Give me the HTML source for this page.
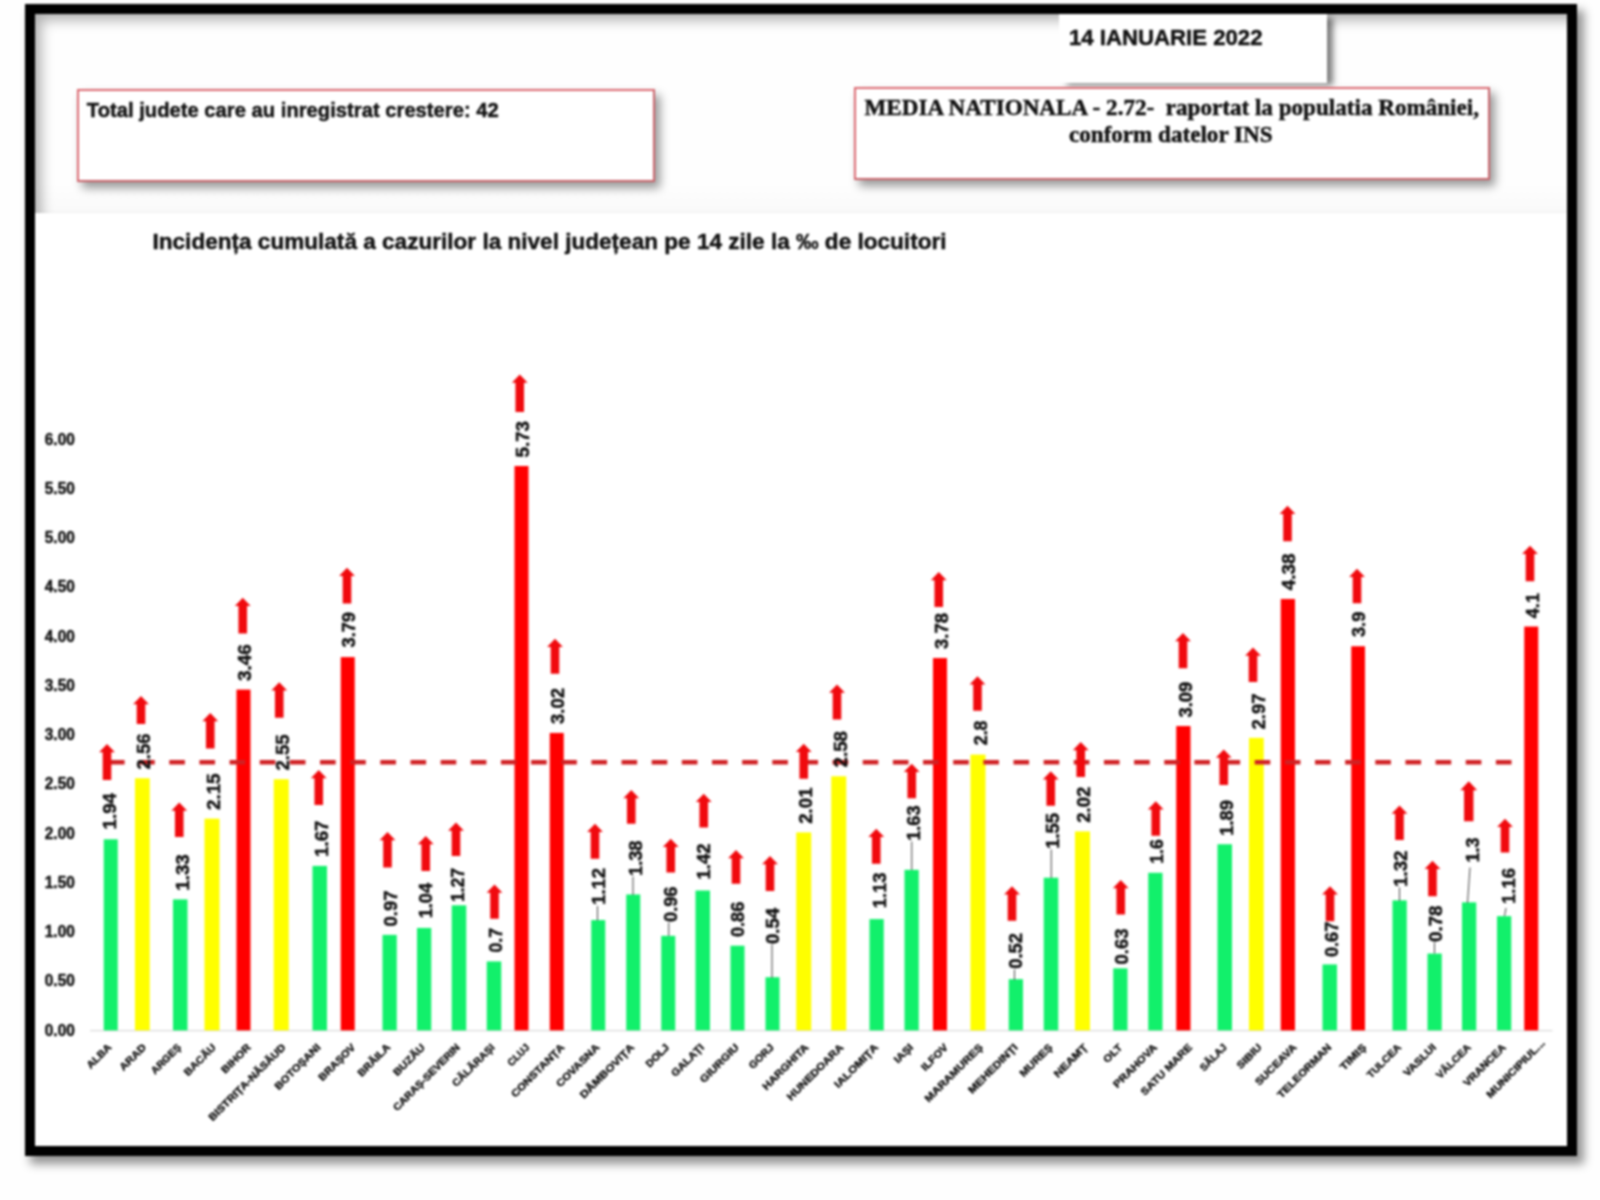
<!DOCTYPE html>
<html lang="ro">
<head>
<meta charset="utf-8">
<title>Incidența cumulată a cazurilor la nivel județean pe 14 zile</title>
<style>
html,body{margin:0;padding:0;background:#fefefe;}
body{width:1600px;height:1200px;position:relative;overflow:hidden;
 font-family:"Liberation Sans",sans-serif;}
#frame{position:absolute;left:25px;top:4px;width:1532px;height:1132px;
 border:10px solid #000;background:#fff;
 box-shadow:6px 7px 9px 1px rgba(0,0,0,.42);}
#head{position:absolute;left:35px;top:14px;width:1532px;height:199px;
 background:linear-gradient(to bottom,#fefefe 0,#fefefe 170px,#fafafa 196px,#f3f3f3 199px);
 box-shadow:inset 10px 10px 13px -4px rgba(0,0,0,.31);}
.box{position:absolute;background:#fff;border:2px solid #dc6a72;border-right-color:#c9646b;border-bottom-color:#c9646b;
 box-shadow:5px 6px 9px rgba(0,0,0,.4);box-sizing:border-box;}
#b1{left:76.5px;top:88.5px;width:578.5px;height:93.5px;}
#b2{left:853.5px;top:87px;width:636px;height:93px;}
#date{position:absolute;left:1058.5px;top:14px;width:268.5px;height:68.5px;background:#fff;
 box-shadow:7px 3px 6px -1px rgba(0,0,0,.5);}
#page{position:absolute;left:0;top:0;width:1600px;height:1200px;filter:blur(0.8px);}
svg{position:absolute;left:0;top:0;}
text{font-family:"Liberation Sans",sans-serif;font-weight:bold;fill:#111;}
.h{stroke:#111;stroke-width:.45px;}
.ser{font-family:"Liberation Serif",serif;}
</style>
</head>
<body>
<div id="page">
<div id="frame"></div>
<div id="head"></div>
<div class="box" id="b1"></div>
<div id="date"></div>
<div class="box" id="b2"></div>
<svg width="1600" height="1200" viewBox="0 0 1600 1200">

<text class="h" x="86.8" y="116.6" font-size="21" textLength="412" lengthAdjust="spacingAndGlyphs">Total judete care au inregistrat crestere: 42</text>
<text class="h" x="1069" y="45" font-size="22" textLength="193.5" lengthAdjust="spacingAndGlyphs">14 IANUARIE 2022</text>
<text class="ser h" x="864.5" y="115" font-size="22.5" textLength="614.5" lengthAdjust="spacingAndGlyphs" xml:space="preserve">MEDIA NATIONALA - 2.72-  raportat la populatia României,</text>
<text class="ser h" x="1069" y="142" font-size="22.5" textLength="203.5" lengthAdjust="spacingAndGlyphs">conform datelor INS</text>
<text class="h" x="152.5" y="248.6" font-size="22.5" textLength="794" lengthAdjust="spacingAndGlyphs">Incidența cumulată a cazurilor la nivel județean pe 14 zile la ‰ de locuitori</text>
<text class="h" x="44.8" y="1035.6" font-size="15.8" textLength="30" lengthAdjust="spacingAndGlyphs">0.00</text>
<text class="h" x="44.8" y="986.35" font-size="15.8" textLength="30" lengthAdjust="spacingAndGlyphs">0.50</text>
<text class="h" x="44.8" y="937.1" font-size="15.8" textLength="30" lengthAdjust="spacingAndGlyphs">1.00</text>
<text class="h" x="44.8" y="887.85" font-size="15.8" textLength="30" lengthAdjust="spacingAndGlyphs">1.50</text>
<text class="h" x="44.8" y="838.6" font-size="15.8" textLength="30" lengthAdjust="spacingAndGlyphs">2.00</text>
<text class="h" x="44.8" y="789.35" font-size="15.8" textLength="30" lengthAdjust="spacingAndGlyphs">2.50</text>
<text class="h" x="44.8" y="740.1" font-size="15.8" textLength="30" lengthAdjust="spacingAndGlyphs">3.00</text>
<text class="h" x="44.8" y="690.85" font-size="15.8" textLength="30" lengthAdjust="spacingAndGlyphs">3.50</text>
<text class="h" x="44.8" y="641.6" font-size="15.8" textLength="30" lengthAdjust="spacingAndGlyphs">4.00</text>
<text class="h" x="44.8" y="592.35" font-size="15.8" textLength="30" lengthAdjust="spacingAndGlyphs">4.50</text>
<text class="h" x="44.8" y="543.1" font-size="15.8" textLength="30" lengthAdjust="spacingAndGlyphs">5.00</text>
<text class="h" x="44.8" y="493.85" font-size="15.8" textLength="30" lengthAdjust="spacingAndGlyphs">5.50</text>
<text class="h" x="44.8" y="444.6" font-size="15.8" textLength="30" lengthAdjust="spacingAndGlyphs">6.00</text>
<line x1="90" y1="1030.6" x2="1552.5" y2="1030.6" stroke="#dadada" stroke-width="1.2"/>
<g id="bars">
<rect x="103.75" y="839.31" width="14" height="191.09" fill="#12f06b"/>
<rect x="135" y="778.24" width="14.75" height="252.16" fill="#ffff00"/>
<rect x="173" y="899.4" width="14.5" height="131" fill="#12f06b"/>
<rect x="204.5" y="818.63" width="15" height="211.77" fill="#ffff00"/>
<rect x="236.5" y="689.59" width="14" height="340.81" fill="#ff0000"/>
<rect x="273.75" y="779.23" width="15" height="251.17" fill="#ffff00"/>
<rect x="312.5" y="865.91" width="14.5" height="164.5" fill="#12f06b"/>
<rect x="340.75" y="657.09" width="14" height="373.32" fill="#ff0000"/>
<rect x="382.5" y="934.86" width="14.25" height="95.54" fill="#12f06b"/>
<rect x="417" y="927.96" width="14.25" height="102.44" fill="#12f06b"/>
<rect x="451.75" y="905.31" width="14.5" height="125.1" fill="#12f06b"/>
<rect x="486.75" y="961.45" width="14.5" height="68.95" fill="#12f06b"/>
<rect x="514.5" y="466" width="14" height="564.41" fill="#ff0000"/>
<rect x="549.75" y="732.93" width="14" height="297.47" fill="#ff0000"/>
<rect x="591.25" y="920.08" width="14" height="110.32" fill="#12f06b"/>
<rect x="626.25" y="894.47" width="14" height="135.93" fill="#12f06b"/>
<rect x="661.25" y="935.84" width="14" height="94.56" fill="#12f06b"/>
<rect x="695.5" y="890.53" width="14.5" height="139.87" fill="#12f06b"/>
<rect x="730.5" y="945.69" width="14" height="84.71" fill="#12f06b"/>
<rect x="765.5" y="977.21" width="14" height="53.19" fill="#12f06b"/>
<rect x="796.25" y="832.42" width="15" height="197.99" fill="#ffff00"/>
<rect x="831.25" y="776.27" width="15" height="254.13" fill="#ffff00"/>
<rect x="869.5" y="919.1" width="14.25" height="111.3" fill="#12f06b"/>
<rect x="904.5" y="869.85" width="14.25" height="160.55" fill="#12f06b"/>
<rect x="933" y="658.07" width="14" height="372.33" fill="#ff0000"/>
<rect x="970.5" y="754.6" width="15" height="275.8" fill="#ffff00"/>
<rect x="1008.75" y="979.18" width="14.25" height="51.22" fill="#12f06b"/>
<rect x="1043.75" y="877.73" width="14.5" height="152.67" fill="#12f06b"/>
<rect x="1075" y="831.43" width="15" height="198.97" fill="#ffff00"/>
<rect x="1113.25" y="968.35" width="14.25" height="62.05" fill="#12f06b"/>
<rect x="1148.25" y="872.8" width="14.25" height="157.6" fill="#12f06b"/>
<rect x="1176.25" y="726.04" width="14.25" height="304.37" fill="#ff0000"/>
<rect x="1217.5" y="844.24" width="14.5" height="186.16" fill="#12f06b"/>
<rect x="1249" y="737.86" width="14.75" height="292.55" fill="#ffff00"/>
<rect x="1280.75" y="598.97" width="14.25" height="431.43" fill="#ff0000"/>
<rect x="1322.5" y="964.41" width="14.5" height="66" fill="#12f06b"/>
<rect x="1351.25" y="646.25" width="13.75" height="384.15" fill="#ff0000"/>
<rect x="1392.5" y="900.38" width="14.25" height="130.02" fill="#12f06b"/>
<rect x="1427.5" y="953.57" width="14.25" height="76.83" fill="#12f06b"/>
<rect x="1462" y="902.35" width="14.25" height="128.05" fill="#12f06b"/>
<rect x="1497" y="916.14" width="14.25" height="114.26" fill="#12f06b"/>
<rect x="1524.25" y="626.55" width="14" height="403.85" fill="#ff0000"/>
</g>
<line x1="109" y1="762.2" x2="1524" y2="762.2" stroke="#d02124" stroke-width="4.6" stroke-dasharray="15.6 14.55"/>
<g stroke="#444" stroke-width="1" fill="none">
<line x1="597.5" y1="906" x2="597.5" y2="920.5"/>
<line x1="633" y1="876.5" x2="633" y2="895"/>
<line x1="668.75" y1="922.5" x2="668.75" y2="936"/>
<line x1="772" y1="944.5" x2="772" y2="978"/>
<line x1="911.75" y1="841.5" x2="911.75" y2="870"/>
<line x1="1014.5" y1="969.5" x2="1014.5" y2="980"/>
<line x1="1051.25" y1="849.5" x2="1051.25" y2="878"/>
<line x1="1399.5" y1="887.5" x2="1399.5" y2="901"/>
<line x1="1434.5" y1="942.5" x2="1434.5" y2="953.5"/>
<line x1="1470" y1="867.5" x2="1467.5" y2="903"/>
<line x1="1506" y1="908" x2="1504.5" y2="916"/>
</g>
<g fill="#f00a0e">
<polygon points="107,744 114.9,752.2 111.3,752.2 111.3,780 102.7,780 102.7,752.2 99.1,752.2"/>
<polygon points="141,696 148.9,704.2 145.3,704.2 145.3,724 136.7,724 136.7,704.2 133.1,704.2"/>
<polygon points="179.25,802.5 187.15,810.7 183.55,810.7 183.55,837 174.95,837 174.95,810.7 171.35,810.7"/>
<polygon points="210.25,713 218.15,721.2 214.55,721.2 214.55,748.5 205.95,748.5 205.95,721.2 202.35,721.2"/>
<polygon points="242.75,597.75 250.65,605.95 247.05,605.95 247.05,633.5 238.45,633.5 238.45,605.95 234.85,605.95"/>
<polygon points="279.25,682.25 287.15,690.45 283.55,690.45 283.55,717.75 274.95,717.75 274.95,690.45 271.35,690.45"/>
<polygon points="318.75,770 326.65,778.2 323.05,778.2 323.05,805 314.45,805 314.45,778.2 310.85,778.2"/>
<polygon points="347,567.75 354.9,575.95 351.3,575.95 351.3,603.5 342.7,603.5 342.7,575.95 339.1,575.95"/>
<polygon points="387.5,832 395.4,840.2 391.8,840.2 391.8,867.5 383.2,867.5 383.2,840.2 379.6,840.2"/>
<polygon points="425.75,836 433.65,844.2 430.05,844.2 430.05,871 421.45,871 421.45,844.2 417.85,844.2"/>
<polygon points="456,822.5 463.9,830.7 460.3,830.7 460.3,856 451.7,856 451.7,830.7 448.1,830.7"/>
<polygon points="494.5,884.5 502.4,892.7 498.8,892.7 498.8,918.75 490.2,918.75 490.2,892.7 486.6,892.7"/>
<polygon points="519.75,374.5 527.65,382.7 524.05,382.7 524.05,412 515.45,412 515.45,382.7 511.85,382.7"/>
<polygon points="555,638.75 562.9,646.95 559.3,646.95 559.3,673.75 550.7,673.75 550.7,646.95 547.1,646.95"/>
<polygon points="595,823.75 602.9,831.95 599.3,831.95 599.3,858.75 590.7,858.75 590.7,831.95 587.1,831.95"/>
<polygon points="631.25,790 639.15,798.2 635.55,798.2 635.55,823.75 626.95,823.75 626.95,798.2 623.35,798.2"/>
<polygon points="670.75,838.75 678.65,846.95 675.05,846.95 675.05,872.5 666.45,872.5 666.45,846.95 662.85,846.95"/>
<polygon points="703.75,793.75 711.65,801.95 708.05,801.95 708.05,827.5 699.45,827.5 699.45,801.95 695.85,801.95"/>
<polygon points="736,850 743.9,858.2 740.3,858.2 740.3,883.75 731.7,883.75 731.7,858.2 728.1,858.2"/>
<polygon points="770,856 777.9,864.2 774.3,864.2 774.3,891 765.7,891 765.7,864.2 762.1,864.2"/>
<polygon points="803.75,743.75 811.65,751.95 808.05,751.95 808.05,778.75 799.45,778.75 799.45,751.95 795.85,751.95"/>
<polygon points="837,684.5 844.9,692.7 841.3,692.7 841.3,719.5 832.7,719.5 832.7,692.7 829.1,692.7"/>
<polygon points="876.25,828.75 884.15,836.95 880.55,836.95 880.55,863.75 871.95,863.75 871.95,836.95 868.35,836.95"/>
<polygon points="911.75,763.75 919.65,771.95 916.05,771.95 916.05,798.25 907.45,798.25 907.45,771.95 903.85,771.95"/>
<polygon points="938.75,572 946.65,580.2 943.05,580.2 943.05,607 934.45,607 934.45,580.2 930.85,580.2"/>
<polygon points="977.5,676.25 985.4,684.45 981.8,684.45 981.8,710.75 973.2,710.75 973.2,684.45 969.6,684.45"/>
<polygon points="1012,886.25 1019.9,894.45 1016.3,894.45 1016.3,920.75 1007.7,920.75 1007.7,894.45 1004.1,894.45"/>
<polygon points="1050.75,771.25 1058.65,779.45 1055.05,779.45 1055.05,805.75 1046.45,805.75 1046.45,779.45 1042.85,779.45"/>
<polygon points="1080.75,742 1088.65,750.2 1085.05,750.2 1085.05,777 1076.45,777 1076.45,750.2 1072.85,750.2"/>
<polygon points="1120.75,880 1128.65,888.2 1125.05,888.2 1125.05,914.5 1116.45,914.5 1116.45,888.2 1112.85,888.2"/>
<polygon points="1155.75,801.25 1163.65,809.45 1160.05,809.45 1160.05,835.75 1151.45,835.75 1151.45,809.45 1147.85,809.45"/>
<polygon points="1183,633 1190.9,641.2 1187.3,641.2 1187.3,668.25 1178.7,668.25 1178.7,641.2 1175.1,641.2"/>
<polygon points="1223.75,749.5 1231.65,757.7 1228.05,757.7 1228.05,785 1219.45,785 1219.45,757.7 1215.85,757.7"/>
<polygon points="1253,647.5 1260.9,655.7 1257.3,655.7 1257.3,682 1248.7,682 1248.7,655.7 1245.1,655.7"/>
<polygon points="1287.5,505.75 1295.4,513.95 1291.8,513.95 1291.8,541.25 1283.2,541.25 1283.2,513.95 1279.6,513.95"/>
<polygon points="1330,886.25 1337.9,894.45 1334.3,894.45 1334.3,921.25 1325.7,921.25 1325.7,894.45 1322.1,894.45"/>
<polygon points="1357,568.75 1364.9,576.95 1361.3,576.95 1361.3,603.25 1352.7,603.25 1352.7,576.95 1349.1,576.95"/>
<polygon points="1399.5,805.5 1407.4,813.7 1403.8,813.7 1403.8,840 1395.2,840 1395.2,813.7 1391.6,813.7"/>
<polygon points="1432.5,860.75 1440.4,868.95 1436.8,868.95 1436.8,896.25 1428.2,896.25 1428.2,868.95 1424.6,868.95"/>
<polygon points="1468.75,781.25 1477.15,790.25 1473.45,790.25 1473.45,821.25 1464.05,821.25 1464.05,790.25 1460.35,790.25"/>
<polygon points="1505,818.75 1512.9,826.95 1509.3,826.95 1509.3,852.5 1500.7,852.5 1500.7,826.95 1497.1,826.95"/>
<polygon points="1530,545.75 1537.9,553.95 1534.3,553.95 1534.3,581.25 1525.7,581.25 1525.7,553.95 1522.1,553.95"/>
</g>
<g font-size="18.6" stroke="#111" stroke-width="0.45">
<text transform="translate(115.6 829.5) rotate(-90)" textLength="36.5" lengthAdjust="spacingAndGlyphs">1.94</text>
<text transform="translate(150.45 769.5) rotate(-90)" textLength="36" lengthAdjust="spacingAndGlyphs">2.56</text>
<text transform="translate(189.2 890.75) rotate(-90)" textLength="36.5" lengthAdjust="spacingAndGlyphs">1.33</text>
<text transform="translate(220.45 810) rotate(-90)" textLength="36.5" lengthAdjust="spacingAndGlyphs">2.15</text>
<text transform="translate(250.7 681) rotate(-90)" textLength="36.75" lengthAdjust="spacingAndGlyphs">3.46</text>
<text transform="translate(289.45 770.5) rotate(-90)" textLength="36" lengthAdjust="spacingAndGlyphs">2.55</text>
<text transform="translate(327.95 857) rotate(-90)" textLength="36.5" lengthAdjust="spacingAndGlyphs">1.67</text>
<text transform="translate(355.45 647.5) rotate(-90)" textLength="35.5" lengthAdjust="spacingAndGlyphs">3.79</text>
<text transform="translate(396.7 926.5) rotate(-90)" textLength="36" lengthAdjust="spacingAndGlyphs">0.97</text>
<text transform="translate(432.2 918.25) rotate(-90)" textLength="35.25" lengthAdjust="spacingAndGlyphs">1.04</text>
<text transform="translate(464.2 902) rotate(-90)" textLength="34" lengthAdjust="spacingAndGlyphs">1.27</text>
<text transform="translate(501.7 952.5) rotate(-90)" textLength="24.5" lengthAdjust="spacingAndGlyphs">0.7</text>
<text transform="translate(529.2 457.5) rotate(-90)" textLength="36.5" lengthAdjust="spacingAndGlyphs">5.73</text>
<text transform="translate(564.2 724) rotate(-90)" textLength="36" lengthAdjust="spacingAndGlyphs">3.02</text>
<text transform="translate(605.45 905) rotate(-90)" textLength="37" lengthAdjust="spacingAndGlyphs">1.12</text>
<text transform="translate(641.7 876) rotate(-90)" textLength="35.5" lengthAdjust="spacingAndGlyphs">1.38</text>
<text transform="translate(677.2 922) rotate(-90)" textLength="35.5" lengthAdjust="spacingAndGlyphs">0.96</text>
<text transform="translate(710.45 879.5) rotate(-90)" textLength="36" lengthAdjust="spacingAndGlyphs">1.42</text>
<text transform="translate(744.2 937) rotate(-90)" textLength="35.25" lengthAdjust="spacingAndGlyphs">0.86</text>
<text transform="translate(779.2 944) rotate(-90)" textLength="36" lengthAdjust="spacingAndGlyphs">0.54</text>
<text transform="translate(811.7 823.75) rotate(-90)" textLength="36.25" lengthAdjust="spacingAndGlyphs">2.01</text>
<text transform="translate(846.7 767.5) rotate(-90)" textLength="36.5" lengthAdjust="spacingAndGlyphs">2.58</text>
<text transform="translate(886.2 908.25) rotate(-90)" textLength="35.75" lengthAdjust="spacingAndGlyphs">1.13</text>
<text transform="translate(920.45 840.75) rotate(-90)" textLength="35.25" lengthAdjust="spacingAndGlyphs">1.63</text>
<text transform="translate(947.95 649) rotate(-90)" textLength="36" lengthAdjust="spacingAndGlyphs">3.78</text>
<text transform="translate(986.7 745.25) rotate(-90)" textLength="24.75" lengthAdjust="spacingAndGlyphs">2.8</text>
<text transform="translate(1021.7 968.75) rotate(-90)" textLength="35.75" lengthAdjust="spacingAndGlyphs">0.52</text>
<text transform="translate(1059.2 848.75) rotate(-90)" textLength="35.75" lengthAdjust="spacingAndGlyphs">1.55</text>
<text transform="translate(1090.45 822.75) rotate(-90)" textLength="36" lengthAdjust="spacingAndGlyphs">2.02</text>
<text transform="translate(1127.95 964.5) rotate(-90)" textLength="36" lengthAdjust="spacingAndGlyphs">0.63</text>
<text transform="translate(1162.95 863.75) rotate(-90)" textLength="24.5" lengthAdjust="spacingAndGlyphs">1.6</text>
<text transform="translate(1191.7 717.5) rotate(-90)" textLength="35.75" lengthAdjust="spacingAndGlyphs">3.09</text>
<text transform="translate(1232.95 835.75) rotate(-90)" textLength="35.75" lengthAdjust="spacingAndGlyphs">1.89</text>
<text transform="translate(1264.7 729.5) rotate(-90)" textLength="36" lengthAdjust="spacingAndGlyphs">2.97</text>
<text transform="translate(1295.45 590.25) rotate(-90)" textLength="36.75" lengthAdjust="spacingAndGlyphs">4.38</text>
<text transform="translate(1337.95 957) rotate(-90)" textLength="35.25" lengthAdjust="spacingAndGlyphs">0.67</text>
<text transform="translate(1365.45 637) rotate(-90)" textLength="25.25" lengthAdjust="spacingAndGlyphs">3.9</text>
<text transform="translate(1407.2 887) rotate(-90)" textLength="36.5" lengthAdjust="spacingAndGlyphs">1.32</text>
<text transform="translate(1442.2 942) rotate(-90)" textLength="36.5" lengthAdjust="spacingAndGlyphs">0.78</text>
<text transform="translate(1478.7 862.5) rotate(-90)" textLength="25" lengthAdjust="spacingAndGlyphs">1.3</text>
<text transform="translate(1515.45 904) rotate(-90)" textLength="36" lengthAdjust="spacingAndGlyphs">1.16</text>
<text transform="translate(1539.2 618.25) rotate(-90)" textLength="25.25" lengthAdjust="spacingAndGlyphs">4.1</text>
</g>
<g font-size="10.2" text-anchor="end" stroke="#111" stroke-width="0.4">
<text transform="translate(112 1048) rotate(-45)" textLength="30.15" lengthAdjust="spacingAndGlyphs">ALBA</text>
<text transform="translate(146.86 1048) rotate(-45)" textLength="32.97" lengthAdjust="spacingAndGlyphs">ARAD</text>
<text transform="translate(181.72 1048) rotate(-45)" textLength="37.85" lengthAdjust="spacingAndGlyphs">ARGEȘ</text>
<text transform="translate(216.58 1048) rotate(-45)" textLength="40.39" lengthAdjust="spacingAndGlyphs">BACĂU</text>
<text transform="translate(251.44 1048) rotate(-45)" textLength="36.92" lengthAdjust="spacingAndGlyphs">BIHOR</text>
<text transform="translate(286.3 1048) rotate(-45)" textLength="103.91" lengthAdjust="spacingAndGlyphs">BISTRIȚA-NĂSĂUD</text>
<text transform="translate(321.16 1048) rotate(-45)" textLength="60.08" lengthAdjust="spacingAndGlyphs">BOTOȘANI</text>
<text transform="translate(356.02 1048) rotate(-45)" textLength="47.34" lengthAdjust="spacingAndGlyphs">BRAȘOV</text>
<text transform="translate(390.88 1048) rotate(-45)" textLength="41.35" lengthAdjust="spacingAndGlyphs">BRĂILA</text>
<text transform="translate(425.74 1048) rotate(-45)" textLength="40.34" lengthAdjust="spacingAndGlyphs">BUZĂU</text>
<text transform="translate(460.6 1048) rotate(-45)" textLength="89.76" lengthAdjust="spacingAndGlyphs">CARAȘ-SEVERIN</text>
<text transform="translate(495.46 1048) rotate(-45)" textLength="55.49" lengthAdjust="spacingAndGlyphs">CĂLĂRAȘI</text>
<text transform="translate(530.32 1048) rotate(-45)" textLength="26.64" lengthAdjust="spacingAndGlyphs">CLUJ</text>
<text transform="translate(565.18 1048) rotate(-45)" textLength="70.67" lengthAdjust="spacingAndGlyphs">CONSTANȚA</text>
<text transform="translate(600.04 1048) rotate(-45)" textLength="56.39" lengthAdjust="spacingAndGlyphs">COVASNA</text>
<text transform="translate(634.9 1048) rotate(-45)" textLength="72.13" lengthAdjust="spacingAndGlyphs">DÂMBOVIȚA</text>
<text transform="translate(669.76 1048) rotate(-45)" textLength="28.31" lengthAdjust="spacingAndGlyphs">DOLJ</text>
<text transform="translate(704.62 1048) rotate(-45)" textLength="41.46" lengthAdjust="spacingAndGlyphs">GALAȚI</text>
<text transform="translate(739.48 1048) rotate(-45)" textLength="50.14" lengthAdjust="spacingAndGlyphs">GIURGIU</text>
<text transform="translate(774.34 1048) rotate(-45)" textLength="30.29" lengthAdjust="spacingAndGlyphs">GORJ</text>
<text transform="translate(809.2 1048) rotate(-45)" textLength="60.39" lengthAdjust="spacingAndGlyphs">HARGHITA</text>
<text transform="translate(844.06 1048) rotate(-45)" textLength="74.91" lengthAdjust="spacingAndGlyphs">HUNEDOARA</text>
<text transform="translate(878.92 1048) rotate(-45)" textLength="57.39" lengthAdjust="spacingAndGlyphs">IALOMIȚA</text>
<text transform="translate(913.78 1048) rotate(-45)" textLength="22.28" lengthAdjust="spacingAndGlyphs">IAȘI</text>
<text transform="translate(948.64 1048) rotate(-45)" textLength="33.12" lengthAdjust="spacingAndGlyphs">ILFOV</text>
<text transform="translate(983.5 1048) rotate(-45)" textLength="77.45" lengthAdjust="spacingAndGlyphs">MARAMUREȘ</text>
<text transform="translate(1018.36 1048) rotate(-45)" textLength="65.29" lengthAdjust="spacingAndGlyphs">MEHEDINȚI</text>
<text transform="translate(1053.22 1048) rotate(-45)" textLength="41.69" lengthAdjust="spacingAndGlyphs">MUREȘ</text>
<text transform="translate(1088.08 1048) rotate(-45)" textLength="42.65" lengthAdjust="spacingAndGlyphs">NEAMȚ</text>
<text transform="translate(1122.94 1048) rotate(-45)" textLength="22.02" lengthAdjust="spacingAndGlyphs">OLT</text>
<text transform="translate(1157.8 1048) rotate(-45)" textLength="57.27" lengthAdjust="spacingAndGlyphs">PRAHOVA</text>
<text transform="translate(1192.66 1048) rotate(-45)" textLength="67.78" lengthAdjust="spacingAndGlyphs">SATU MARE</text>
<text transform="translate(1227.52 1048) rotate(-45)" textLength="33.43" lengthAdjust="spacingAndGlyphs">SĂLAJ</text>
<text transform="translate(1262.38 1048) rotate(-45)" textLength="30.48" lengthAdjust="spacingAndGlyphs">SIBIU</text>
<text transform="translate(1297.24 1048) rotate(-45)" textLength="53.77" lengthAdjust="spacingAndGlyphs">SUCEAVA</text>
<text transform="translate(1332.1 1048) rotate(-45)" textLength="71.67" lengthAdjust="spacingAndGlyphs">TELEORMAN</text>
<text transform="translate(1366.96 1048) rotate(-45)" textLength="32.58" lengthAdjust="spacingAndGlyphs">TIMIȘ</text>
<text transform="translate(1401.82 1048) rotate(-45)" textLength="43.62" lengthAdjust="spacingAndGlyphs">TULCEA</text>
<text transform="translate(1436.68 1048) rotate(-45)" textLength="41.18" lengthAdjust="spacingAndGlyphs">VASLUI</text>
<text transform="translate(1471.54 1048) rotate(-45)" textLength="44.28" lengthAdjust="spacingAndGlyphs">VÂLCEA</text>
<text transform="translate(1506.4 1048) rotate(-45)" textLength="55.07" lengthAdjust="spacingAndGlyphs">VRANCEA</text>
<text transform="translate(1545.46 1043.8) rotate(-45)" textLength="77.67" lengthAdjust="spacingAndGlyphs">MUNICIPIUL...</text>
</g>
</svg>
</div>
</body>
</html>
